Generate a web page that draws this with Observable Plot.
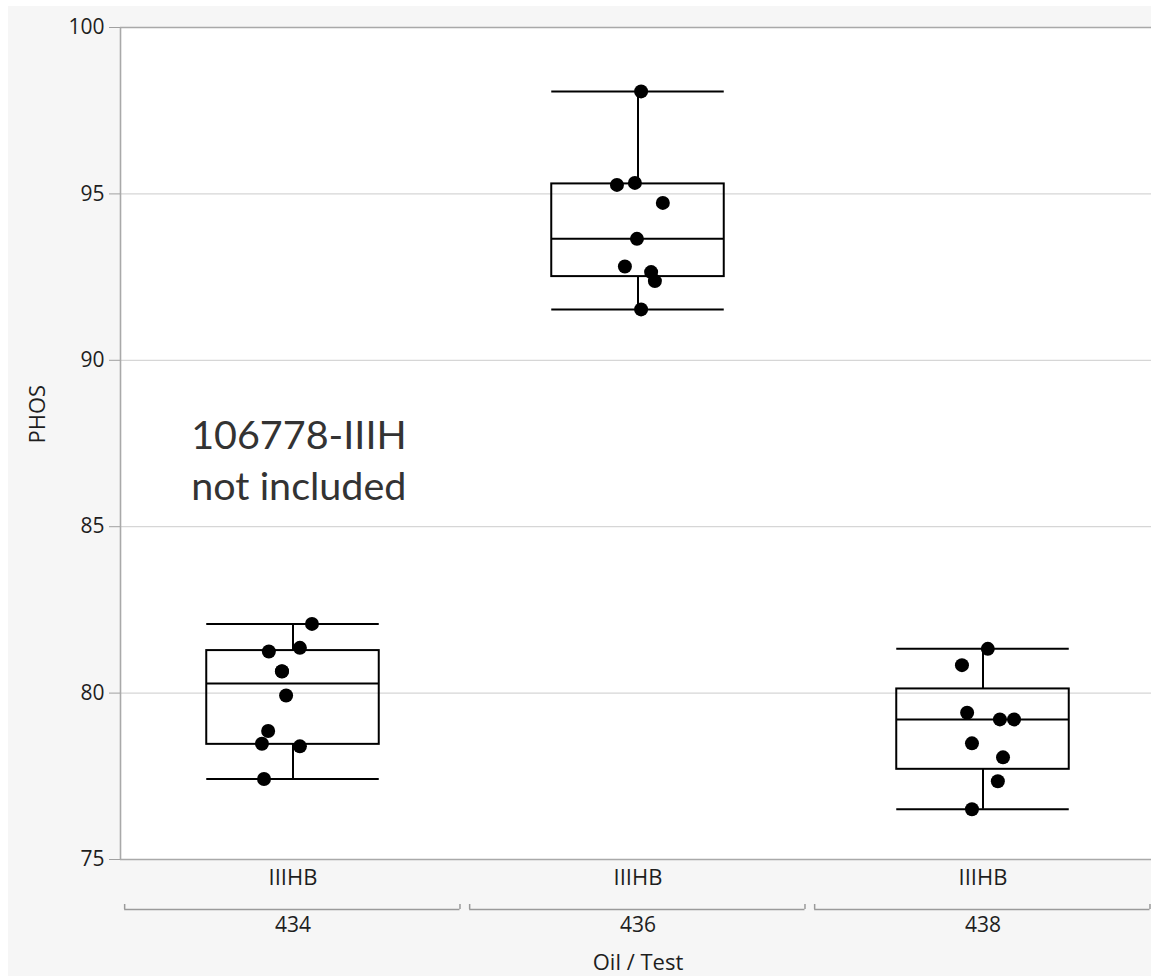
<!DOCTYPE html>
<html><head><meta charset="utf-8">
<script src="https://cdn.jsdelivr.net/npm/d3@7"></script>
<script src="https://cdn.jsdelivr.net/npm/@observablehq/plot@0.6"></script>
<style>
html,body{margin:0;padding:0;background:#fff;overflow:hidden;width:1151px;height:976px;}
#chart{position:absolute;left:8px;top:6px;width:1150px;height:970px;}
#chart svg{max-width:none !important;}
</style></head><body><div id="chart"></div>
<script>
const oils = ["434", "436", "438"];
const tests = ["IIIHB", "IIIHB", "IIIHB"];
const phos434 = [82.08, 81.36, 81.25, 80.66, 80.65, 79.93, 78.86, 78.48, 78.40, 77.42];
const jitter434 = [0.055, 0.020, -0.070, -0.032, -0.032, -0.020, -0.072, -0.090, 0.020, -0.084];
const phos436 = [98.08, 95.33, 95.27, 94.73, 93.65, 92.82, 92.65, 92.38, 91.53];
const jitter436 = [0.009, -0.009, -0.061, 0.072, -0.003, -0.038, 0.038, 0.049, 0.009];
const phos438 = [81.33, 80.84, 79.41, 79.21, 79.21, 78.49, 78.07, 77.35, 76.51];
const jitter438 = [0.014, -0.061, -0.046, 0.049, 0.090, -0.032, 0.058, 0.043, -0.032];
const yTicks = [75, 80, 85, 90, 95, 100];
const gridTicks = [80, 85, 90, 95];
const note = "106778-IIIH\nnot included";
const yLabel = "PHOS";
const xLabel = "Oil / Test";

const groups = [phos434, phos436, phos438];
const jitters = [jitter434, jitter436, jitter438];

// points table
const points = [];
groups.forEach((vals, g) => vals.forEach((v, k) => points.push({g, x: g + jitters[g][k], y: v})));

// quantile as p(n+1) (JMP style)
function quant(sorted, p) {
  const n = sorted.length, h = p * (n + 1), lo = Math.floor(h), f = h - lo;
  if (lo < 1) return sorted[0];
  if (lo >= n) return sorted[n - 1];
  return sorted[lo - 1] + f * (sorted[lo] - sorted[lo - 1]);
}
const stats = groups.map((vals, g) => {
  const s = vals.slice().sort((a, b) => a - b);
  const q1 = quant(s, 0.25), med = quant(s, 0.5), q3 = quant(s, 0.75);
  const iqr = q3 - q1;
  const lo = d3.min(s.filter(v => v >= q1 - 1.5 * iqr));
  const hi = d3.max(s.filter(v => v <= q3 + 1.5 * iqr));
  return {g, q1, med, q3, lo, hi};
});
const idx = [0, 1, 2];

const font = "'Open Sans', 'Noto Sans', sans-serif";
const txt = "#1e1e1e";
const border = "#a9a9a9";
const plot = Plot.plot({
  width: 1150,
  height: 970,
  marginLeft: 112,
  marginTop: 21,
  marginRight: 3,
  marginBottom: 117,
  style: {background: "#f6f6f6", fontFamily: font, fontSize: "21px", color: txt, overflow: "visible"},
  x: {domain: [-0.5, 2.5], axis: null},
  y: {domain: [75, 100], axis: null},
  marks: [
    Plot.frame({fill: "white"}),
    Plot.gridY(gridTicks, {stroke: "#d6d6d6", strokeOpacity: 1, strokeWidth: 1.2}),
    Plot.ruleY([75, 100], {stroke: border, strokeWidth: 1.6}),
    Plot.ruleX([-0.5], {stroke: border, strokeWidth: 1.6}),
    Plot.axisY({ticks: yTicks, tickSize: 11, tickPadding: 5, stroke: "#a0a0a0", fill: txt, fontSize: 21, label: null}),
    Plot.text([yLabel], {frameAnchor: "left", dx: -83, rotate: -90, fontSize: 22, fill: txt}),
    Plot.axisX({ticks: idx, tickFormat: i => tests[i], tickSize: 0, tickPadding: 10, fontSize: 22, fill: txt, label: null}),
    Plot.axisX({ticks: idx, tickFormat: i => oils[i], tickSize: 0, tickPadding: 58, fontSize: 21, fill: txt, label: null}),
    Plot.ruleY(idx, {x1: i => i - 0.488, x2: i => i + 0.484, y: () => 75, dy: 50, stroke: "#9a9a9a", strokeWidth: 1.5}),
    Plot.ruleX(idx, {x: i => i - 0.488, y1: () => 75, y2: () => 75, insetBottom: 5, dy: 50, stroke: "#9a9a9a", strokeWidth: 1.5}),
    Plot.ruleX(idx, {x: i => i + 0.484, y1: () => 75, y2: () => 75, insetBottom: 5, dy: 50, stroke: "#9a9a9a", strokeWidth: 1.5}),
    Plot.text([xLabel], {frameAnchor: "bottom", dy: 110, fontSize: 22, fill: txt}),
    // boxes
    Plot.rect(stats, {x1: d => d.g - 0.25, x2: d => d.g + 0.25, y1: "q1", y2: "q3", fill: "none", stroke: "black", strokeWidth: 2}),
    Plot.ruleY(stats, {x1: d => d.g - 0.25, x2: d => d.g + 0.25, y: "med", stroke: "black", strokeWidth: 2}),
    Plot.ruleY(stats, {x1: d => d.g - 0.25, x2: d => d.g + 0.25, y: "hi", stroke: "black", strokeWidth: 2}),
    Plot.ruleY(stats, {x1: d => d.g - 0.25, x2: d => d.g + 0.25, y: "lo", stroke: "black", strokeWidth: 2}),
    Plot.ruleX(stats, {x: "g", y1: "q3", y2: "hi", stroke: "black", strokeWidth: 2}),
    Plot.ruleX(stats, {x: "g", y1: "lo", y2: "q1", stroke: "black", strokeWidth: 2}),
    Plot.dot(points, {x: "x", y: "y", r: 7, fill: "black", stroke: "none"}),
    Plot.text([note], {x: () => 0.017, y: () => 87.05, fontSize: 39.5, lineHeight: 1.29, fill: "#333", fontFamily: "Lato, 'Open Sans', sans-serif"})
  ]
});
document.getElementById("chart").appendChild(plot);
</script>
</body></html>
